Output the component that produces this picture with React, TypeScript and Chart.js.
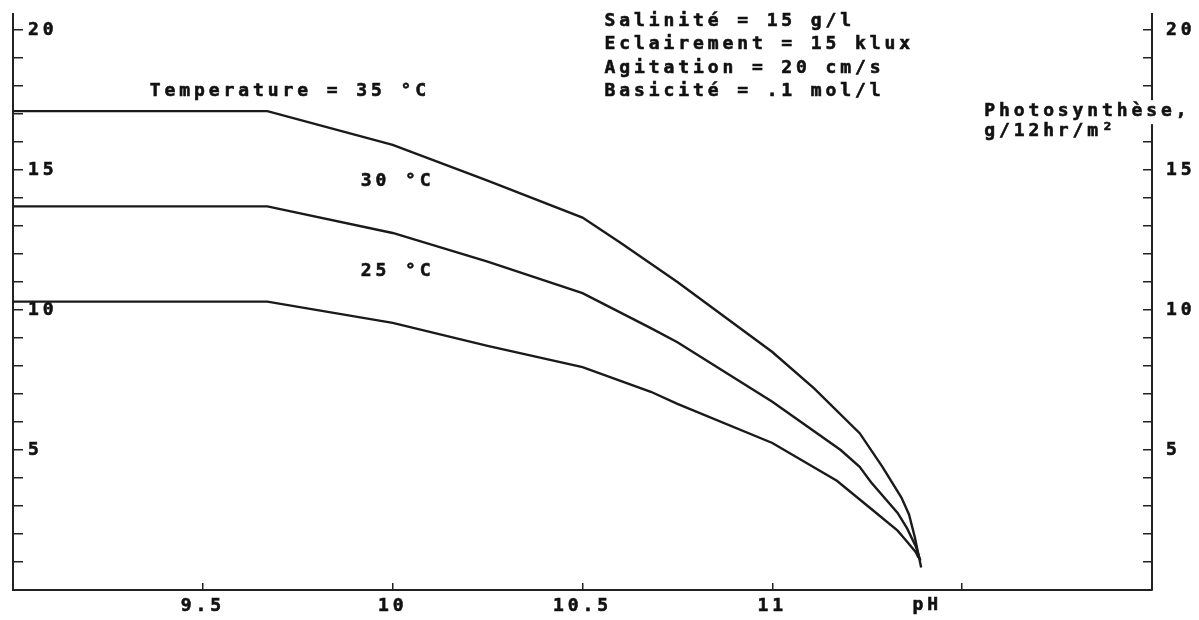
import { useEffect, useRef } from 'react';
import { Chart, registerables } from 'chart.js';

Chart.register(...registerables);

// ---- Data (pH -> photosynthesis, g/12hr/m²) ----
const ph35 = [9.0, 9.67, 10.0, 10.25, 10.5, 10.6, 10.75, 11.0, 11.11, 11.23, 11.29, 11.34, 11.36, 11.375, 11.392];
const val35 = [17.1, 17.1, 15.9, 14.62, 13.3, 12.4, 11.0, 8.5, 7.2, 5.6, 4.4, 3.3, 2.7, 1.9, 0.8];

const ph30 = [9.0, 9.67, 10.0, 10.25, 10.5, 10.68, 10.75, 11.0, 11.18, 11.23, 11.26, 11.33, 11.355, 11.378, 11.39];
const val30 = [13.7, 13.7, 12.75, 11.73, 10.6, 9.35, 8.85, 6.72, 5.0, 4.4, 3.85, 2.75, 2.2, 1.55, 1.05];

const ph25 = [9.0, 9.67, 10.0, 10.25, 10.5, 10.68, 10.75, 11.0, 11.17, 11.26, 11.33, 11.355, 11.378, 11.385];
const val25 = [10.3, 10.3, 9.54, 8.72, 7.96, 7.08, 6.65, 5.25, 3.9, 2.9, 2.12, 1.72, 1.35, 1.15];

// ---- Axes ----
const xMin = 9;
const xMax = 12;
const yMin = 0;
const yMax = 20.57;
const xTickValues = [9.5, 10, 10.5, 11, 11.5];
const xTickLabels = ['9.5', '10', '10.5', '11', ''];
const yTickValues = [1, 2, 3, 4, 5, 6, 7, 8, 9, 10, 11, 12, 13, 14, 15, 16, 17, 18, 19, 20];
const yLabelledTicks = [5, 10, 15, 20];

// ---- Texts (anchored in data coordinates: pH, value) ----
const curveLabels = ['Temperature = 35 °C', '30 °C', '25 °C'];
const curveLabelPh = [9.3605, 9.916, 9.916];
const curveLabelVal = [17.8, 14.58, 11.37];
const conditionLines = ['Salinité = 15 g/l', 'Eclairement = 15 klux', 'Agitation = 20 cm/s', 'Basicité = .1 mol/l'];
const conditionPh = 10.558;
const conditionVal = [20.32, 19.48, 18.64, 17.8];
const yTitleLines = ['Photosynthèse,', 'g/12hr/m²'];
const yTitlePh = 11.558;
const yTitleVal = [17.1, 16.38];
const xTitle = 'pH';
const xTitlePh = 11.408;
const xTitleVal = -0.55;

const FONT_FAMILY = '"DejaVu Sans Mono", monospace';
const FONT_SIZE = 18;
const SPACING = '3.9px';
const INK = '#111';
const STROKE = 0.6;

const toPoints = (xs: number[], ys: number[]) => xs.map((x, i) => ({ x, y: ys[i] }));

const textPlugin = {
  id: 'textPlugin',
  beforeDraw(chart: any) {
    (chart.ctx as any).letterSpacing = SPACING;
  },
  afterDraw(chart: any) {
    const ctx = chart.ctx as CanvasRenderingContext2D;
    const xs = chart.scales.x;
    const ys = chart.scales.y;
    ctx.save();
    (ctx as any).letterSpacing = SPACING;
    ctx.font = `bold ${FONT_SIZE}px ${FONT_FAMILY}`;
    ctx.fillStyle = INK;
    ctx.strokeStyle = INK;
    ctx.lineWidth = STROKE;
    ctx.textBaseline = 'middle';
    ctx.textAlign = 'left';

    const put = (t: string, x: number, y: number) => {
      ctx.strokeText(t, x, y);
      ctx.fillText(t, x, y);
    };

    curveLabels.forEach((t, i) => {
      put(t, xs.getPixelForValue(curveLabelPh[i]), ys.getPixelForValue(curveLabelVal[i]));
    });
    conditionLines.forEach((t, i) => {
      put(t, xs.getPixelForValue(conditionPh), ys.getPixelForValue(conditionVal[i]));
    });

    // y title with white backing that interrupts the right axis
    const tx = xs.getPixelForValue(yTitlePh);
    yTitleLines.forEach((t, i) => {
      const ty = ys.getPixelForValue(yTitleVal[i]);
      if (i === 0) {
        const w = ctx.measureText(t).width;
        ctx.fillStyle = '#fff';
        ctx.fillRect(tx - 2, ty - 11, w + 6, 24);
        ctx.fillStyle = INK;
      }
      put(t, tx, ty);
    });

    ctx.textAlign = 'center';
    put(xTitle, xs.getPixelForValue(xTitlePh), ys.getPixelForValue(xTitleVal));
    ctx.restore();
  },
};

const tickFont = { family: FONT_FAMILY, size: FONT_SIZE, weight: 'bold' as const };

const zeroPadding = (s: any) => {
  s.paddingTop = 0;
  s.paddingBottom = 0;
  s.paddingLeft = 0;
  s.paddingRight = 0;
};

export default function App() {
  const ref = useRef<HTMLCanvasElement>(null);

  useEffect(() => {
    if (!ref.current) return;
    const lineStyle = {
      borderColor: '#1a1a1a',
      borderWidth: 2.4,
      pointRadius: 0,
      tension: 0,
      fill: false,
    };
    const yAxisCommon = (tickLength: number, padding: number, mirror: boolean, width: number) => ({
      type: 'linear' as const,
      min: yMin,
      max: yMax,
      afterBuildTicks: (s: any) => {
        s.ticks = yTickValues.map((v) => ({ value: v }));
      },
      afterFit: (s: any) => {
        s.width = width;
        zeroPadding(s);
      },
      border: { display: true, color: '#222', width: 2 },
      grid: { drawOnChartArea: false, drawTicks: true, tickLength, color: '#222', lineWidth: 1.5 },
      ticks: {
        mirror,
        padding,
        autoSkip: false,
        color: INK,
        textStrokeColor: INK,
        textStrokeWidth: STROKE,
        font: tickFont,
        callback: (v: any) => (yLabelledTicks.includes(Number(v)) ? String(v) : ''),
      },
    });

    const chart = new Chart(ref.current, {
      type: 'line',
      data: {
        datasets: [
          { label: '35 °C', data: toPoints(ph35, val35), ...lineStyle },
          { label: '30 °C', data: toPoints(ph30, val30), ...lineStyle },
          { label: '25 °C', data: toPoints(ph25, val25), ...lineStyle },
        ],
      },
      options: {
        animation: false,
        responsive: false,
        events: [],
        layout: { padding: { left: 0, right: 0, top: 14, bottom: 0 } },
        plugins: { legend: { display: false }, tooltip: { enabled: false } },
        scales: {
          x: {
            type: 'linear',
            position: 'bottom',
            min: xMin,
            max: xMax,
            afterBuildTicks: (s: any) => {
              s.ticks = xTickValues.map((v) => ({ value: v }));
            },
            afterFit: (s: any) => {
              s.height = 30;
              zeroPadding(s);
            },
            border: { display: true, color: '#222', width: 2 },
            grid: { drawOnChartArea: false, drawTicks: true, tickLength: -7, color: '#222', lineWidth: 1.5 },
            ticks: {
              padding: 13,
              autoSkip: false,
              maxRotation: 0,
              color: INK,
              textStrokeColor: INK,
              textStrokeWidth: STROKE,
              font: tickFont,
              callback: (_v: any, i: number) => xTickLabels[i] ?? '',
            },
          },
          y: { position: 'left', ...yAxisCommon(-10, 15, true, 13) },
          y2: { position: 'right', ...yAxisCommon(-9, 23, false, 47) },
        },
      },
      plugins: [textPlugin],
    } as any);
    return () => chart.destroy();
  }, []);

  return (
    <div style={{ position: 'fixed', left: 0, top: 0, width: 1199, height: 620, background: '#fff' }}>
      <canvas ref={ref} width={1199} height={620} style={{ display: 'block', width: 1199, height: 620 }} />
    </div>
  );
}
